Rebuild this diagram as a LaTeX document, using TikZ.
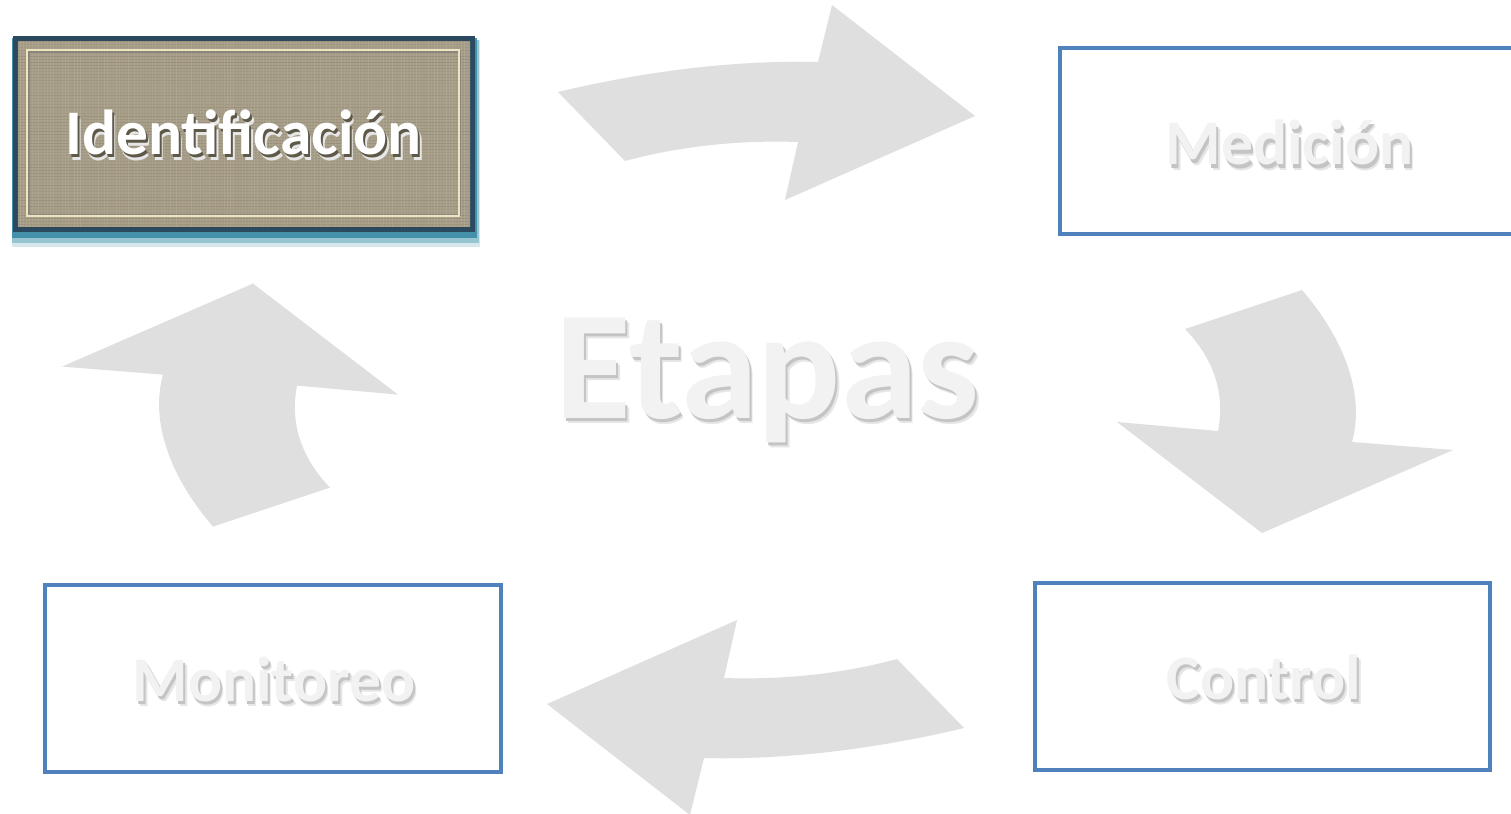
\documentclass[tikz,border=0pt]{standalone}
\usepackage{fontspec}
\setmainfont{Carlito}
\definecolor{arrowgray}{HTML}{DFDFDF}
\definecolor{boxblue}{HTML}{4F81BD}
\definecolor{txtgray}{HTML}{F2F2F2}
\definecolor{beige}{HTML}{A69E88}
\definecolor{framec}{HTML}{2B4A60}
\definecolor{glowc}{HTML}{3A8CA6}
\definecolor{cream}{HTML}{EDE4C0}
\definecolor{shadA}{HTML}{C4C4C4}
\definecolor{shadB}{HTML}{E6E6E6}
\definecolor{shadD}{HTML}{5E5849}
\newcommand{\shtext}[3]{\rlap{\raisebox{-5.5pt}{\kern3.5pt\textcolor{shadB}{#3}}}\rlap{\raisebox{-3pt}{\kern2pt\textcolor{#2}{#3}}}\textcolor{#1}{#3}}
\begin{document}
\begin{tikzpicture}[x=1pt,y=-1pt,
  bluebox/.style={draw=boxblue, line width=4pt, inner sep=0pt},
  lbl/.style={font=\bfseries\fontsize{63.5}{72}\selectfont, anchor=base, inner sep=0pt},
  big/.style={font=\bfseries\fontsize{155}{190}\selectfont, anchor=base, inner sep=0pt},
  arr/.style={fill=arrowgray, draw=none}]
\useasboundingbox (0,0) rectangle (1511,813);
\fill[white] (0,0) rectangle (1511,813);

% curved arrows
\fill[arr] (558,92) .. controls (650,70) and (740,60) .. (818,62) -- (832,5) -- (975,116) -- (785,200) -- (798,142) .. controls (740,140) and (680,146) .. (625,161) -- cycle;
\begin{scope}[rotate around={180:(761,410)}]
\fill[arr] (558,92) .. controls (650,70) and (740,60) .. (818,62) -- (832,5) -- (975,116) -- (785,200) -- (798,142) .. controls (740,140) and (680,146) .. (625,161) -- cycle;
\end{scope}
\fill[arr] (1185,329) -- (1302,290) .. controls (1345,340) and (1365,395) .. (1352,442) -- (1453,450) -- (1262,533) -- (1117,422) -- (1218,431) .. controls (1225,395) and (1215,360) .. (1185,329) -- cycle;
\begin{scope}[rotate around={180:(757.5,408.3)}]
\fill[arr] (1185,329) -- (1302,290) .. controls (1345,340) and (1365,395) .. (1352,442) -- (1453,450) -- (1262,533) -- (1117,422) -- (1218,431) .. controls (1225,395) and (1215,360) .. (1185,329) -- cycle;
\end{scope}

% Identificacion box
\fill[glowc, opacity=0.2] (12,40) rectangle (480,247);
\fill[glowc, opacity=0.4] (12,40) rectangle (479,243);
\fill[glowc, opacity=0.9] (12,38) rectangle (477,238);
\node[fill=beige, draw=framec, line width=5pt, minimum width=457, minimum height=190, inner sep=0pt] (idbox) at (244,134) {};
\begin{scope}
\clip (17,41) rectangle (471,227);
\pgfmathsetseed{7}
\foreach \i in {0,3,...,190} {
  \pgfmathsetmacro{\op}{0.04+0.10*rnd}
  \draw[black!60!brown, opacity=\op, line width=0.8pt] (17,41+\i) -- (471,41+\i);
}
\foreach \i in {0,3,...,455} {
  \pgfmathsetmacro{\op}{0.03+0.08*rnd}
  \draw[white, opacity=\op, line width=0.8pt] (17+\i,41) -- (17+\i,227);
}
\end{scope}
\draw[black!55, opacity=0.55, line width=1.2pt] (29,52) rectangle (460,215);
\draw[cream, line width=1.4pt] (27,50) rectangle (459,216);
\node[lbl] (id) at (243.5,155) {\shtext{white}{shadD}{Identificación}};

% blue boxes
\node[bluebox, minimum width=458, minimum height=186] (medbox) at (1289,141) {};
\node[bluebox, minimum width=455, minimum height=187] (conbox) at (1262.5,676.5) {};
\node[bluebox, minimum width=456, minimum height=187] (monbox) at (273,678.5) {};

\node[lbl] (med) at (1289.5,165) {\shtext{txtgray}{shadA}{Medición}};
\node[lbl] (con) at (1264,699) {\shtext{txtgray}{shadA}{Control}};
\node[lbl] (mon) at (274,701) {\shtext{txtgray}{shadA}{Monitoreo}};

% central title
\node[big] (eta) at (767.5,418) {\shtext{txtgray}{shadA}{Etapas}};
\end{tikzpicture}
\end{document}
